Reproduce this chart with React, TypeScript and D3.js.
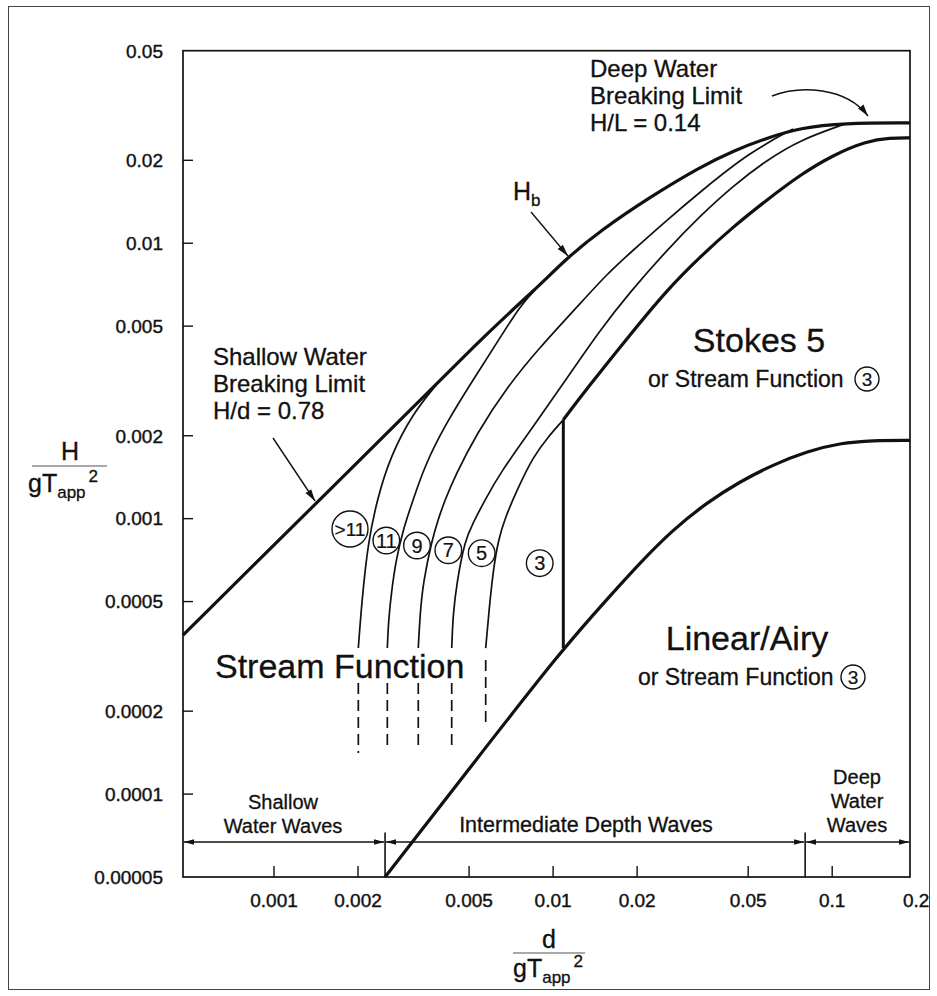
import React from "react";
import * as d3 from "d3";

type Pt = [number, number];

const FONT = "'Liberation Sans', Arial, Helvetica, sans-serif";

// ---------- axes ----------
const xDomain: [number, number] = [0.000472, 0.19];
const yDomain: [number, number] = [0.00005, 0.05];
const xTickValues = [0.001, 0.002, 0.005, 0.01, 0.02, 0.05, 0.1];
const xLabelValues = [0.001, 0.002, 0.005, 0.01, 0.02, 0.05, 0.1, 0.2];
const xLabelTexts = ["0.001", "0.002", "0.005", "0.01", "0.02", "0.05", "0.1", "0.2"];
const yTickValues = [0.02, 0.01, 0.005, 0.002, 0.001, 0.0005, 0.0002, 0.0001];
const yLabelValues = [0.05, 0.02, 0.01, 0.005, 0.002, 0.001, 0.0005, 0.0002, 0.0001, 0.00005];
const yLabelTexts = ["0.05", "0.02", "0.01", "0.005", "0.002", "0.001", "0.0005", "0.0002", "0.0001", "0.00005"];

// ---------- limit curves (d/gT², H/gT²) ----------
const breakingLimit: Pt[] = [
  [0.000472, 0.000378], [0.00187, 0.0015], [0.006, 0.0049], [0.00847, 0.00666],
  [0.01122, 0.00885], [0.01473, 0.01109], [0.02224, 0.01472], [0.0336, 0.01892],
  [0.04411, 0.02163], [0.05839, 0.02411], [0.07665, 0.02622], [0.1093, 0.02733], [0.19, 0.02733],
];
const stokesLimit: Pt[] = [
  [0.01088, 0.002286], [0.01312, 0.002937], [0.01886, 0.00465], [0.0256, 0.00677],
  [0.0336, 0.00892], [0.04411, 0.01146], [0.05839, 0.01437], [0.07665, 0.0177],
  [0.1007, 0.02091], [0.1332, 0.02352], [0.1611, 0.02411], [0.19, 0.02411],
];
const linearLimit: Pt[] = [
  [0.0025, 0.00005], [0.0052, 0.00013], [0.01088, 0.000339], [0.01556, 0.000508],
  [0.02049, 0.000692], [0.02689, 0.000912], [0.03551, 0.001143], [0.04674, 0.001364],
  [0.06136, 0.001569], [0.08104, 0.001754], [0.1066, 0.001881], [0.14, 0.001923], [0.19, 0.001923],
];
const thirdOrderD = 0.01088;
const thirdOrderH: [number, number] = [0.000339, 0.002286];

// stream function order boundaries
const orderAbove11: Pt[] = [
  [0.002005, 0.000339], [0.002066, 0.000507], [0.002171, 0.000816], [0.002339, 0.001169],
  [0.002604, 0.001674], [0.003148, 0.002419], [0.003837, 0.003082],
];
const order11: Pt[] = [
  [0.002547, 0.000339], [0.002572, 0.000429], [0.002641, 0.000551], [0.002737, 0.000708],
  [0.002899, 0.00091], [0.003148, 0.001169], [0.003476, 0.001565], [0.004099, 0.002188],
  [0.005163, 0.003187], [0.006453, 0.004528], [0.00761, 0.005916], [0.00861, 0.006765],
];
const order9: Pt[] = [
  [0.003288, 0.000339], [0.003336, 0.000447], [0.003419, 0.000584], [0.003682, 0.000837],
  [0.003868, 0.000989], [0.004099, 0.001169], [0.004452, 0.001429], [0.005338, 0.002046],
  [0.006838, 0.003006], [0.008977, 0.004199], [0.01218, 0.005866], [0.0156, 0.00773],
  [0.01886, 0.009215], [0.0256, 0.01214], [0.0336, 0.01535], [0.05075, 0.02144], [0.07237, 0.02598],
];
const order7: Pt[] = [
  [0.004332, 0.000339], [0.004379, 0.000447], [0.004515, 0.000584], [0.004833, 0.000837],
  [0.005163, 0.000964], [0.005702, 0.001169], [0.006453, 0.001464], [0.00847, 0.002152],
  [0.01122, 0.00324], [0.01473, 0.00484], [0.01886, 0.00665], [0.0256, 0.00945],
  [0.0336, 0.01255], [0.04411, 0.01614], [0.05839, 0.02006], [0.07665, 0.0237], [0.1111, 0.02709],
];
const order5: Pt[] = [
  [0.005735, 0.000339], [0.005895, 0.000466], [0.006103, 0.000651], [0.006363, 0.000837],
  [0.006726, 0.001005], [0.007425, 0.00127], [0.00847, 0.001674], [0.009591, 0.001979], [0.01088, 0.002286],
];
const dashedD = [0.002005, 0.002547, 0.003288, 0.004332, 0.005735];
const dashedTopH = [0.000253, 0.000253, 0.000253, 0.000253, 0.000307];
const dashedBottomH = [0.000141, 0.000147, 0.000147, 0.000147, 0.000178];

// order labels
const orderLabels = [">11", "11", "9", "7", "5", "3"];
const orderLabelD = [0.001872, 0.002526, 0.003253, 0.004213, 0.005547, 0.008954];
const orderLabelH = [0.000917, 0.000833, 0.000799, 0.000768, 0.000749, 0.000689];

// depth zones
const zoneBoundD = [0.0025, 0.08];
const zoneTopH = 0.0000725;
const zoneArrowH = 0.000067;

const ink = "#111";

function Circled({ cx, cy, r, text, size }: { cx: number; cy: number; r: number; text: string; size: number }) {
  return (
    <g>
      <circle cx={cx} cy={cy} r={r} fill="#fff" stroke={ink} strokeWidth={1.4} />
      <text x={cx} y={cy} dy="0.36em" textAnchor="middle" fontSize={size} fill={ink}
        stroke={ink} strokeWidth={0.2}>{text}</text>
    </g>
  );
}

export default function App() {
  const x = d3.scaleLog().domain(xDomain).range([183, 910]);
  const y = d3.scaleLog().domain(yDomain).range([877, 50.7]);
  const smooth = d3.line<Pt>().x((d) => x(d[0])).y((d) => y(d[1])).curve(d3.curveBasis);
  const [x0, x1] = x.range();
  const [yb, yt] = y.range();
  const zoneEdges = [x0, x(zoneBoundD[0]), x(zoneBoundD[1]), x1];
  const heavy = { stroke: ink, strokeWidth: 0.3 };

  return (
    <svg width={937} height={996} style={{ position: "absolute", left: 0, top: 0, background: "#fff" }} fontFamily={FONT}>
      <defs>
        <marker id="ah" viewBox="0 0 12 8" refX={12} refY={4} markerWidth={12} markerHeight={8}
          markerUnits="userSpaceOnUse" orient="auto-start-reverse">
          <path d="M0,0.6 L12,4 L0,7.4 z" fill={ink} />
        </marker>
        <marker id="ah2" viewBox="0 0 10 6" refX={10} refY={3} markerWidth={10} markerHeight={6}
          markerUnits="userSpaceOnUse" orient="auto-start-reverse">
          <path d="M0,0.3 L10,3 L0,5.7 z" fill={ink} />
        </marker>
      </defs>
      <rect x={0} y={0} width={937} height={996} fill="#fff" />
      <rect x={8.5} y={6.5} width={921} height={983} fill="none" stroke="#444" strokeWidth={1} />

      {/* plot frame */}
      <rect x={x0} y={yt} width={x1 - x0} height={yb - yt} fill="none" stroke={ink} strokeWidth={1.7} />

      {/* ticks */}
      {yTickValues.map((v) => (
        <line key={"yt" + v} x1={x0} x2={x0 + 10} y1={y(v)} y2={y(v)} stroke={ink} strokeWidth={1.4} />
      ))}
      {xTickValues.map((v) => (
        <line key={"xt" + v} x1={x(v)} x2={x(v)} y1={yb} y2={yb - 11} stroke={ink} strokeWidth={1.4} />
      ))}
      {yLabelValues.map((v, i) => (
        <text key={"yl" + v} x={163} y={y(v)} dy="0.36em" textAnchor="end" fontSize={19} fill={ink}
          stroke={ink} strokeWidth={0.4}>{yLabelTexts[i]}</text>
      ))}
      {xLabelValues.map((v, i) => (
        <text key={"xl" + v} x={x(v)} y={907} textAnchor="middle" fontSize={19} fill={ink}
          stroke={ink} strokeWidth={0.4}>{xLabelTexts[i]}</text>
      ))}

      {/* axis titles */}
      <text x={70} y={460} textAnchor="middle" fontSize={25} fill={ink} {...heavy}>H</text>
      <line x1={32} x2={107} y1={466} y2={466} stroke="#555" strokeWidth={1.2} />
      <text x={28} y={492} fontSize={25} fill={ink} {...heavy}>
        gT<tspan fontSize={17} dy={6}>app</tspan><tspan fontSize={17} dx={3} dy={-16}>2</tspan>
      </text>
      <text x={549} y={948} textAnchor="middle" fontSize={25} fill={ink} {...heavy}>d</text>
      <line x1={513} x2={585} y1={953} y2={953} stroke="#555" strokeWidth={1.2} />
      <text x={513} y={977} fontSize={25} fill={ink} {...heavy}>
        gT<tspan fontSize={17} dy={6}>app</tspan><tspan fontSize={17} dx={3} dy={-16}>2</tspan>
      </text>

      {/* thin order boundaries */}
      {[orderAbove11, order11, order9, order7, order5].map((c, i) => (
        <path key={"o" + i} d={smooth(c) || ""} fill="none" stroke={ink} strokeWidth={1.7} />
      ))}
      {dashedD.map((d, i) => (
        <line key={"dd" + i} x1={x(d)} x2={x(d)} y1={y(dashedTopH[i])} y2={y(dashedBottomH[i])}
          stroke={ink} strokeWidth={1.7} strokeDasharray="11 6" />
      ))}

      {/* thick limits */}
      <path d={smooth(breakingLimit) || ""} fill="none" stroke={ink} strokeWidth={3.2} />
      <path d={smooth(stokesLimit) || ""} fill="none" stroke={ink} strokeWidth={3.2} />
      <path d={smooth(linearLimit) || ""} fill="none" stroke={ink} strokeWidth={3.2} />
      <line x1={x(thirdOrderD)} x2={x(thirdOrderD)} y1={y(thirdOrderH[0])} y2={y(thirdOrderH[1])}
        stroke={ink} strokeWidth={3} />

      {/* zone boundaries */}
      {zoneBoundD.map((d) => (
        <line key={"zb" + d} x1={x(d)} x2={x(d)} y1={yb} y2={y(zoneTopH)} stroke={ink} strokeWidth={1.6} />
      ))}
      {[0, 1, 2].map((i) => (
        <line key={"za" + i} x1={zoneEdges[i] + 1} x2={zoneEdges[i + 1] - 1} y1={y(zoneArrowH)} y2={y(zoneArrowH)}
          stroke={ink} strokeWidth={1.3} markerStart="url(#ah2)" markerEnd="url(#ah2)" />
      ))}
      <text textAnchor="middle" fontSize={20} fill={ink} {...heavy}>
        <tspan x={283} y={809}>Shallow</tspan>
        <tspan x={283} y={833}>Water Waves</tspan>
      </text>
      <text x={586} y={832} textAnchor="middle" fontSize={21.5} fill={ink} {...heavy}>Intermediate Depth Waves</text>
      <text textAnchor="middle" fontSize={20} fill={ink} {...heavy}>
        <tspan x={857} y={784}>Deep</tspan>
        <tspan x={857} y={808}>Water</tspan>
        <tspan x={857} y={832}>Waves</tspan>
      </text>

      {/* order circles */}
      {orderLabels.map((t, i) => (
        <Circled key={"c" + i} cx={x(orderLabelD[i])} cy={y(orderLabelH[i])} r={t === ">11" ? 18 : 13.3}
          text={t} size={t === ">11" ? 19 : 20} />
      ))}

      {/* region labels */}
      <text x={215} y={678} fontSize={34} fill={ink} {...heavy}>Stream Function</text>
      <text x={759} y={352} textAnchor="middle" fontSize={34} fill={ink} {...heavy}>Stokes 5</text>
      <text x={648} y={387} fontSize={23} fill={ink} {...heavy}>or Stream Function</text>
      <Circled cx={867} cy={379} r={12} text="3" size={19} />
      <text x={747} y={650} textAnchor="middle" fontSize={34} fill={ink} {...heavy}>Linear/Airy</text>
      <text x={638} y={685} fontSize={23} fill={ink} {...heavy}>or Stream Function</text>
      <Circled cx={853} cy={677} r={12} text="3" size={19} />

      {/* annotations */}
      <text fontSize={24} fill={ink} {...heavy}>
        <tspan x={590} y={77}>Deep Water</tspan>
        <tspan x={590} y={104}>Breaking Limit</tspan>
        <tspan x={590} y={131}>H/L = 0.14</tspan>
      </text>
      <path d="M772,96 C800,85 846,87 868,116" fill="none" stroke={ink} strokeWidth={1.4} markerEnd="url(#ah)" />

      <text x={513} y={200} fontSize={25} fill={ink} {...heavy}>H<tspan fontSize={17} dy={6}>b</tspan></text>
      <line x1={531} y1={212} x2={568} y2={256} stroke={ink} strokeWidth={1.4} markerEnd="url(#ah)" />

      <text fontSize={24} fill={ink} {...heavy}>
        <tspan x={213} y={365}>Shallow Water</tspan>
        <tspan x={213} y={392}>Breaking Limit</tspan>
        <tspan x={213} y={419}>H/d = 0.78</tspan>
      </text>
      <line x1={273} y1={438} x2={315} y2={501} stroke={ink} strokeWidth={1.4} markerEnd="url(#ah)" />
    </svg>
  );
}
